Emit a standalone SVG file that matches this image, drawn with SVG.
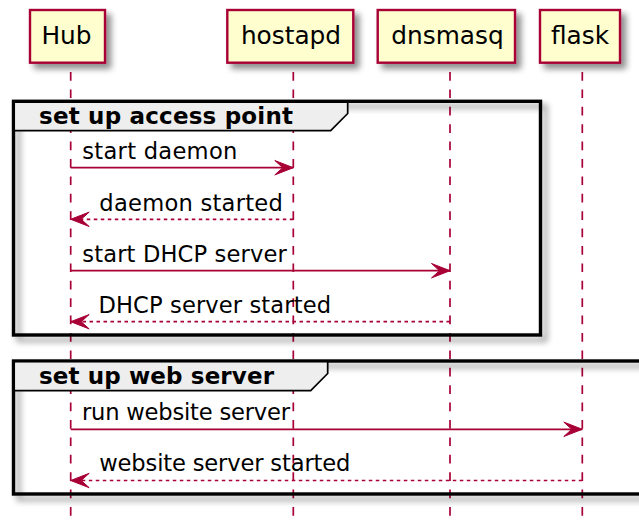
<svg xmlns="http://www.w3.org/2000/svg" width="639" height="520" viewBox="0 0 639 520">
<defs>
<filter id="sh" x="-10%" y="-10%" width="130%" height="140%">
<feGaussianBlur in="SourceAlpha" stdDeviation="3"/>
<feOffset dx="5" dy="5" result="b"/>
<feComponentTransfer in="b" result="s"><feFuncA type="linear" slope="0.45"/></feComponentTransfer>
<feMerge><feMergeNode in="s"/><feMergeNode in="SourceGraphic"/></feMerge>
</filter>
<marker id="ah" markerUnits="userSpaceOnUse" markerWidth="24" markerHeight="20" refX="20" refY="10" orient="auto" overflow="visible">
<path d="M1.5,2.8 L20,10 L1.5,17.2 L9.5,10 Z" fill="#A80036" stroke="#A80036" stroke-width="1" stroke-dasharray="none"/>
</marker>
<style>
.life{stroke:#A80036;stroke-width:1.7;stroke-dasharray:8.7,8.7;fill:none}
.pbox{fill:#FEFECE;stroke:#A80036;stroke-width:2.4}
.pname{font-family:"DejaVu Sans",sans-serif;font-size:24.8px;fill:#000;text-anchor:middle}
.frame{fill:none;stroke:#000;stroke-width:3.4}
.tab{fill:#EEEEEE;stroke:none}
.tabline{fill:none;stroke:#000;stroke-width:1.7}
.glabel{font-family:"DejaVu Sans",sans-serif;font-size:23px;font-weight:bold;fill:#000}
.msg{stroke:#A80036;stroke-width:1.7;fill:none;marker-end:url(#ah)}
.ret{stroke-dasharray:3.5,3.5}
.mtext{font-family:"DejaVu Sans",sans-serif;font-size:22.6px;fill:#000}
</style>
</defs>
<rect width="639" height="520" fill="#FFFFFF"/>

<g id="lifelines">
<line class="life" x1="70.7" y1="72" x2="70.7" y2="520"/>
<line class="life" x1="293.3" y1="72" x2="293.3" y2="520"/>
<line class="life" x1="450" y1="72" x2="450" y2="520"/>
<line class="life" x1="582.3" y1="72" x2="582.3" y2="520"/>
</g>

<g id="group-access-point">
<rect class="frame" x="13.5" y="101.3" width="527" height="233.7" filter="url(#sh)"/>
<polygon class="tab" points="15.2,103 346.8,103 346.8,113.5 330.3,129.9 15.2,129.9"/>
<polyline class="tabline" points="347.7,101.3 347.7,113.5 330.7,130.7 13.5,130.7"/>
<text class="glabel" x="39" y="124" textLength="254">set up access point</text>
</g>

<g id="group-web-server">
<rect class="frame" x="13.5" y="361" width="670" height="133" filter="url(#sh)"/>
<polygon class="tab" points="15.2,362.7 326.8,362.7 326.8,373.5 310.3,389.9 15.2,389.9"/>
<polyline class="tabline" points="327.7,361 327.7,373.5 310.7,390.7 13.5,390.7"/>
<text class="glabel" x="39" y="384" textLength="235">set up web server</text>
</g>

<g id="Hub">
<rect class="pbox" x="30" y="10" width="75" height="52.7" filter="url(#sh)"/>
<text class="pname" x="66.5" y="44.3">Hub</text>
</g>
<g id="hostapd">
<rect class="pbox" x="227.3" y="10" width="126" height="52.7" filter="url(#sh)"/>
<text class="pname" x="291" y="44.3">hostapd</text>
</g>
<g id="dnsmasq">
<rect class="pbox" x="377.7" y="10" width="137.3" height="52.7" filter="url(#sh)"/>
<text class="pname" x="447.5" y="44.3">dnsmasq</text>
</g>
<g id="flask">
<rect class="pbox" x="540" y="10" width="80" height="52.7" filter="url(#sh)"/>
<text class="pname" x="580" y="44.3">flask</text>
</g>

<g id="connectors">
<line class="msg" x1="70.7" y1="167.7" x2="293.3" y2="167.7"/>
<text class="mtext" x="82.3" y="159" textLength="155">start daemon</text>
<line class="msg ret" x1="293.3" y1="219.3" x2="70.7" y2="219.3"/>
<text class="mtext" x="99.3" y="210.8" textLength="183.5">daemon started</text>
<line class="msg" x1="70.7" y1="270.7" x2="450" y2="270.7"/>
<text class="mtext" x="82.3" y="262.2" textLength="204.5">start DHCP server</text>
<line class="msg ret" x1="450" y1="321.7" x2="70.7" y2="321.7"/>
<text class="mtext" x="98.5" y="313.2" textLength="232.5">DHCP server started</text>
<line class="msg" x1="70.7" y1="429.3" x2="582.3" y2="429.3"/>
<text class="mtext" x="82" y="420.3" textLength="208">run website server</text>
<line class="msg ret" x1="582.3" y1="480.5" x2="70.7" y2="480.5"/>
<text class="mtext" x="99.3" y="471.3" textLength="251">website server started</text>
</g>
</svg>
